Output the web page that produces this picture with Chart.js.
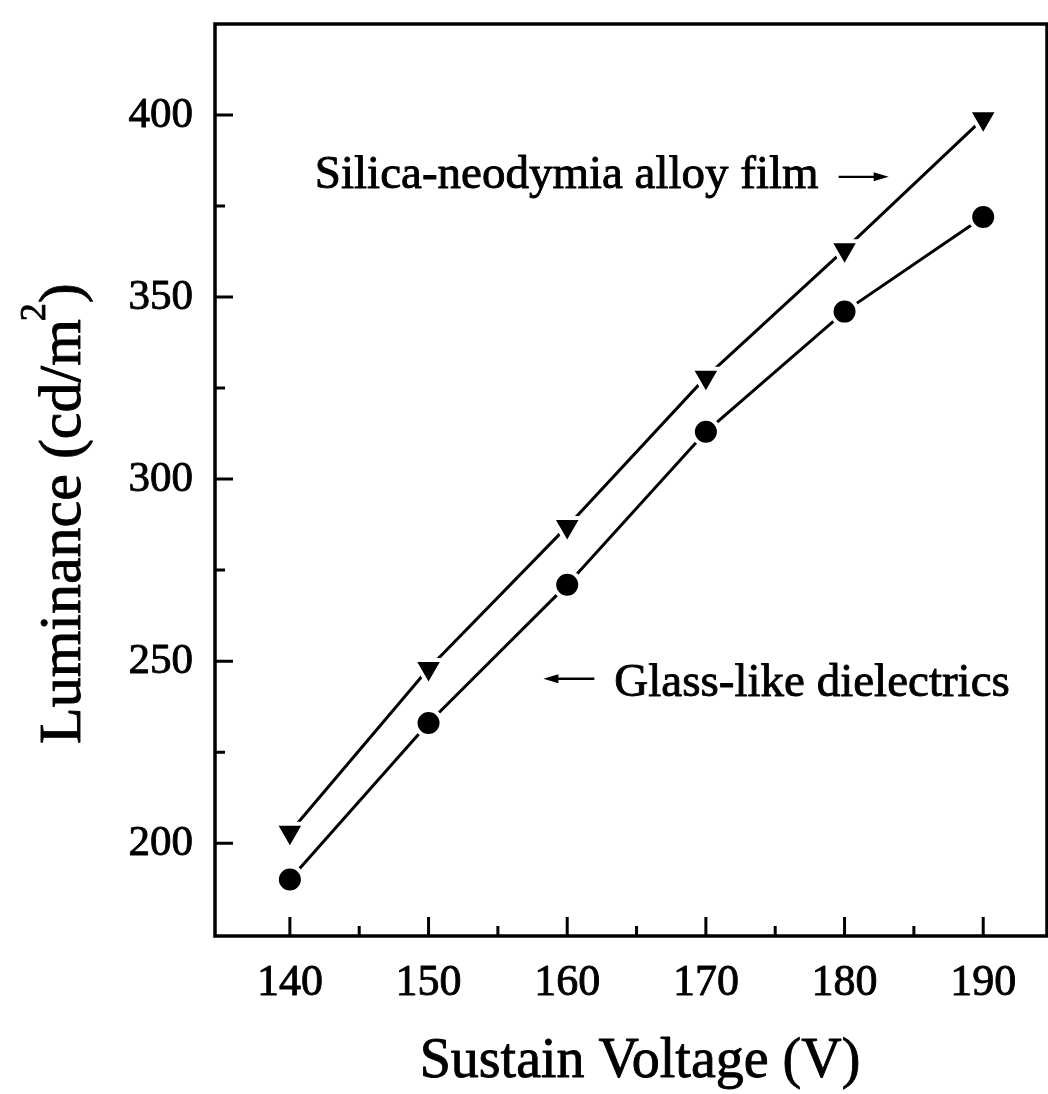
<!DOCTYPE html>
<html><head><meta charset="utf-8">
<script src="https://cdn.jsdelivr.net/npm/chart.js@4/dist/chart.umd.min.js"></script>
<style>html,body{margin:0;padding:0;background:#fff;overflow:hidden}#wrap{width:1048px;height:1094px}canvas{display:block}</style>
</head><body><div id="wrap"><canvas id="c" width="1048" height="1094"></canvas></div>
<script>
const voltages = [140, 150, 160, 170, 180, 190];
const silicaNd = [203, 248, 287, 328, 363, 399];
const glassLike = [190, 233, 271, 313, 346, 372];
const xTicks = [140, 150, 160, 170, 180, 190];
const xMinorTicks = [145, 155, 165, 175, 185];
const yTicks = [200, 250, 300, 350, 400];
const yMinorTicks = [225, 275, 325, 375];
const xTitle = 'Sustain Voltage (V)';
const yTitleParts = ['Luminance (cd/m', '2', ')'];
const labelSilica = 'Silica-neodymia alloy film';
const labelGlass = 'Glass-like dielectrics';

const SERIF = '"Liberation Serif", "DejaVu Serif", serif';

function drawArrow(ctx, x1, y1, x2, y2) {
  ctx.save();
  ctx.lineWidth = 2.4;
  const d = Math.sign(x2 - x1);
  ctx.beginPath(); ctx.moveTo(x1, y1); ctx.lineTo(x2 - d * 6, y2); ctx.stroke();
  ctx.beginPath();
  ctx.moveTo(x2, y2); ctx.lineTo(x2 - d * 15, y2 - 4.5); ctx.lineTo(x2 - d * 15, y2 + 4.5); ctx.closePath(); ctx.fill();
  ctx.restore();
}
function boldText(ctx, t, x, y) {
  ctx.fillText(t, x, y);
  ctx.strokeText(t, x, y);
}

const framePlugin = {
  id: 'frame',
  afterDraw(chart) {
    const ctx = chart.ctx;
    const a = chart.chartArea;
    const xs = chart.scales.x, ys = chart.scales.y;
    ctx.save();
    ctx.strokeStyle = '#000';
    ctx.fillStyle = '#000';
    ctx.lineWidth = 3.5;
    ctx.strokeRect(a.left, a.top, a.right - a.left, a.bottom - a.top);
    ctx.lineWidth = 3;
    ctx.beginPath();
    xTicks.forEach(v => { const p = xs.getPixelForValue(v); ctx.moveTo(p, a.bottom); ctx.lineTo(p, a.bottom - 19); });
    xMinorTicks.forEach(v => { const p = xs.getPixelForValue(v); ctx.moveTo(p, a.bottom); ctx.lineTo(p, a.bottom - 10); });
    yTicks.forEach(v => { const p = ys.getPixelForValue(v); ctx.moveTo(a.left, p); ctx.lineTo(a.left + 18, p); });
    yMinorTicks.forEach(v => { const p = ys.getPixelForValue(v); ctx.moveTo(a.left, p); ctx.lineTo(a.left + 10, p); });
    ctx.stroke();

    ctx.lineWidth = 0.9;
    ctx.lineJoin = 'round';
    // tick labels
    ctx.font = '44px ' + SERIF;
    ctx.textAlign = 'center';
    ctx.textBaseline = 'alphabetic';
    xTicks.forEach(v => boldText(ctx, String(v), xs.getPixelForValue(v), 995));
    ctx.font = '43px ' + SERIF;
    ctx.textAlign = 'right';
    ctx.textBaseline = 'middle';
    yTicks.forEach(v => boldText(ctx, String(v), 193, ys.getPixelForValue(v) + 1));

    // axis titles
    ctx.textAlign = 'center';
    ctx.textBaseline = 'alphabetic';
    ctx.font = '56px ' + SERIF;
    boldText(ctx, xTitle, 640, 1077);

    ctx.save();
    ctx.translate(80, 744);
    ctx.rotate(-Math.PI / 2);
    ctx.textAlign = 'left';
    ctx.font = '60px ' + SERIF;
    const w0 = ctx.measureText(yTitleParts[0]).width;
    boldText(ctx, yTitleParts[0], 0, 0);
    ctx.font = '36px ' + SERIF;
    boldText(ctx, yTitleParts[1], w0 - 2, -35);
    const w1 = ctx.measureText(yTitleParts[1]).width;
    ctx.font = '60px ' + SERIF;
    boldText(ctx, yTitleParts[2], w0 + w1 - 2, 0);
    ctx.restore();

    // annotations
    ctx.font = '47px ' + SERIF;
    ctx.textAlign = 'left';
    ctx.textBaseline = 'alphabetic';
    const sx = xs.getPixelForValue(141.8), sy = ys.getPixelForValue(380);
    boldText(ctx, labelSilica, sx, sy);
    const sw = ctx.measureText(labelSilica).width;
    drawArrow(ctx, sx + sw + 20, sy - 11, sx + sw + 70, sy - 11);
    const gx = xs.getPixelForValue(163.4), gy = ys.getPixelForValue(240.5);
    boldText(ctx, labelGlass, gx, gy);
    drawArrow(ctx, gx - 20, gy - 17, gx - 71, gy - 17);
    ctx.restore();
  }
};

new Chart(document.getElementById('c'), {
  type: 'line',
  data: {
    datasets: [
      {
        label: labelSilica,
        data: voltages.map((v, i) => ({ x: v, y: silicaNd[i] })),
        borderColor: '#000', backgroundColor: '#000', borderWidth: 3,
        pointStyle: 'triangle', rotation: 180, pointRadius: 17,
        pointBackgroundColor: '#000', pointBorderColor: '#fff', pointBorderWidth: 4,
        tension: 0
      },
      {
        label: labelGlass,
        data: voltages.map((v, i) => ({ x: v, y: glassLike[i] })),
        borderColor: '#000', backgroundColor: '#000', borderWidth: 3,
        pointStyle: 'circle', pointRadius: 13,
        pointBackgroundColor: '#000', pointBorderColor: '#fff', pointBorderWidth: 4,
        tension: 0
      }
    ]
  },
  options: {
    responsive: false, animation: false, devicePixelRatio: 1,
    layout: { autoPadding: false, padding: { left: 0, right: 1, top: 24, bottom: 0 } },
    plugins: { legend: { display: false }, tooltip: { enabled: false } },
    scales: {
      x: {
        type: 'linear', min: 134.6, max: 194.6,
        afterBuildTicks: s => { s.ticks = xTicks.map(v => ({ value: v })); },
        afterFit: s => { s.height = 158; },
        grid: { display: false }, border: { display: false },
        ticks: { display: false }
      },
      y: {
        type: 'linear', min: 174.5, max: 425,
        afterBuildTicks: s => { s.ticks = yTicks.map(v => ({ value: v })); },
        afterFit: s => { s.width = 215; },
        grid: { display: false }, border: { display: false },
        ticks: { display: false }
      }
    }
  },
  plugins: [framePlugin]
});
</script>
</body></html>
